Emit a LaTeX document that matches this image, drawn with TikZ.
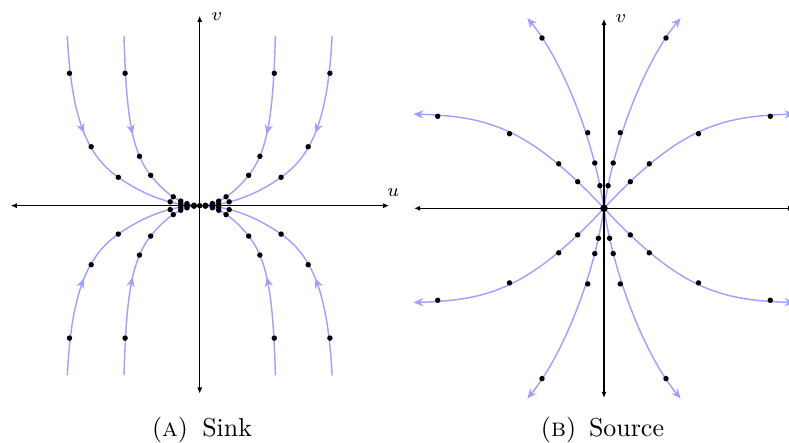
\documentclass[tikz,border=0pt]{standalone}
\usetikzlibrary{arrows.meta,decorations.markings}
\definecolor{traj}{RGB}{160,160,255}
\begin{document}
\begin{tikzpicture}[x=0.386pt,y=0.386pt,
  axisline/.style={line width=0.5pt,{Latex[length=2.4pt,width=2pt]}-{Latex[length=2.4pt,width=2pt]}},
  trajline/.style={draw=traj,line width=0.55pt},
  midarrow/.style={postaction={decorate},decoration={markings,mark=at position #1 with {\arrow{Stealth[length=3.8pt,width=3.2pt]}}}},
  endarrow/.style={-{Stealth[length=3.8pt,width=3.2pt]}},
  lbl/.style={font=\scriptsize,inner sep=0pt},
  capnode/.style={anchor=base,inner sep=0pt}]
\useasboundingbox (0,0) rectangle (789,443);

% ---------------- Sink ----------------
\begin{scope}[shift={(199.7,237.3)}]
  \coordinate (sL) at (-189,0);
  \coordinate (sR) at (189.5,0);
  \coordinate (sT) at (0,190);
  \coordinate (sB) at (0,-188);
  \foreach \sx/\sy in {-1/1, 1/1, -1/-1, 1/-1} {
    \begin{scope}[xscale=\sx,yscale=\sy]
      \draw[trajline,midarrow=38.2pt]
        (132.4,169.7) .. controls (128.2,84.7) and (111.4,49.4) .. (81.4,28.4)
        .. controls (54.3,9.5) and (27.2,0) .. (0,0);
      \draw[trajline,midarrow=38.2pt]
        (75.7,169.7) .. controls (73.5,94.7) and (69,55.4) .. (49,30.4)
        .. controls (32.8,10.13) and (16.47,0) .. (0,0);
    \end{scope}
  }
  \draw[axisline] (sL) -- (sR);
  \draw[axisline] (sB) -- (sT);
  \foreach \sx/\sy in {-1/1, 1/1, -1/-1, 1/-1} {
    \begin{scope}[xscale=\sx,yscale=\sy]
      \foreach \p in {(130.2,132.4),(108.5,59),(81.4,28.4),(29.5,3.9),(19,1.6),(12.7,0.7),(5.7,0.2),
                      (74.6,132.4),(60.2,49.4),(49,30.4),(26.4,8.9),(19,4.6),(12.7,2.1),(5.7,0.4)}
        \fill \p circle[radius=1.05pt];
    \end{scope}
  }
  \fill (0,0) circle[radius=1.05pt];
  \node[lbl] (su) at (193.6,13.4) {$u$};
  \node[lbl] (sv) at (17.3,189) {$v$};
\end{scope}

% ---------------- Source ----------------
\begin{scope}[shift={(604,234.7)}]
  \coordinate (oL) at (-190,0);
  \coordinate (oR) at (190,0);
  \coordinate (oT) at (0,189.5);
  \coordinate (oB) at (0,-189.7);
  \foreach \sx/\sy in {-1/1, 1/1, -1/-1, 1/-1} {
    \begin{scope}[xscale=\sx,yscale=\sy]
      \draw[trajline,endarrow] (0,0) .. controls (12,78) and (45,152) .. (76.7,190.3);
      \draw[trajline,endarrow] (0,0) .. controls (75,80) and (115,92) .. (190.5,94.2);
    \end{scope}
  }
  \draw[axisline] (oL) -- (oR);
  \draw[axisline] (oB) -- (oT);
  \foreach \sx/\sy/\uf/\vf in {-1/1/4.1/22.6, 1/1/4.1/22.6, -1/-1/5.6/30, 1/-1/5.6/30} {
    \begin{scope}[xscale=\sx,yscale=\sy]
      \foreach \p in {(\uf,\vf),(9.2,45.3),(16.3,75.6),(62,170.3),
                      (26.3,26.6),(45.3,44.5),(94.5,74.6),(166.3,92)}
        \fill \p circle[radius=1.05pt];
    \end{scope}
  }
  \fill (0,0) circle[radius=1.45pt];
  \node[lbl] (ov) at (17,189.3) {$v$};
\end{scope}

% ---------------- Captions ----------------
\node[capnode] (capA) at (202,6) {(\textsc{a})\hspace{0.55em}Sink};
\node[capnode] (capB) at (602.5,6) {(\textsc{b})\hspace{0.5em}Source};
\end{tikzpicture}
\end{document}
